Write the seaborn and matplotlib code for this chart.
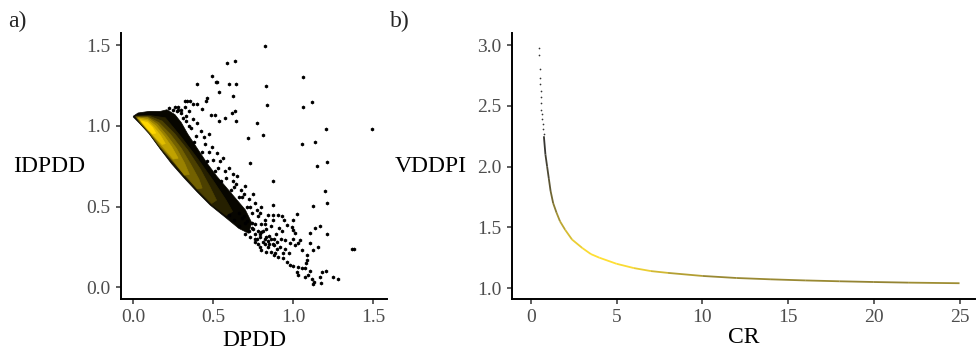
#!/usr/bin/env python3
"""
Two-panel figure: a) DPDD vs IDPDD density, b) CR vs VDDPI curve.
"""

import numpy as np
import pandas as pd
import matplotlib
matplotlib.use("Agg")
import matplotlib.pyplot as plt
from matplotlib.colors import LinearSegmentedColormap, Normalize
from matplotlib.collections import LineCollection
import seaborn as sns

# ============= PANEL A DATA (read off the hexbin) =============
# outline of the dense band (clockwise from the tip)
band_dpdd = [0.00, 0.03, 0.10, 0.17, 0.21, 0.26, 0.30, 0.34, 0.40, 0.46, 0.52, 0.58, 0.64,
             0.70, 0.74, 0.72, 0.66, 0.58, 0.48, 0.40, 0.32, 0.24, 0.17, 0.10, 0.05, 0.00]
band_idpdd = [1.06, 1.08, 1.09, 1.09, 1.10, 1.07, 1.02, 0.95, 0.86, 0.77, 0.69, 0.62, 0.55,
              0.48, 0.40, 0.335, 0.365, 0.43, 0.51, 0.59, 0.675, 0.765, 0.855, 0.95, 1.005, 1.055]

# density contours inside the band (relative count level, low -> high)
c1_dpdd = [0.01, 0.10, 0.20, 0.30, 0.40, 0.50, 0.58, 0.62, 0.58, 0.48, 0.40, 0.32, 0.24, 0.17, 0.10, 0.05]
c1_idpdd = [1.06, 1.065, 1.05, 0.93, 0.80, 0.66, 0.54, 0.47, 0.445, 0.52, 0.60, 0.685, 0.775, 0.86, 0.955, 1.005]
c2_dpdd = [0.015, 0.10, 0.18, 0.26, 0.34, 0.42, 0.48, 0.52, 0.49, 0.41, 0.33, 0.25, 0.17, 0.10, 0.05]
c2_idpdd = [1.06, 1.06, 1.03, 0.95, 0.85, 0.73, 0.62, 0.54, 0.52, 0.60, 0.685, 0.775, 0.865, 0.955, 1.01]
c3_dpdd = [0.02, 0.09, 0.16, 0.23, 0.30, 0.36, 0.41, 0.43, 0.40, 0.33, 0.25, 0.17, 0.10, 0.05]
c3_idpdd = [1.055, 1.055, 1.02, 0.95, 0.86, 0.76, 0.67, 0.615, 0.61, 0.69, 0.78, 0.87, 0.96, 1.015]
c4_dpdd = [0.025, 0.09, 0.15, 0.21, 0.27, 0.32, 0.35, 0.32, 0.25, 0.17, 0.10, 0.05]
c4_idpdd = [1.05, 1.05, 1.01, 0.94, 0.86, 0.77, 0.70, 0.695, 0.785, 0.875, 0.965, 1.02]
c5_dpdd = [0.03, 0.09, 0.14, 0.19, 0.24, 0.28, 0.25, 0.18, 0.11, 0.06]
c5_idpdd = [1.05, 1.04, 1.00, 0.94, 0.87, 0.80, 0.795, 0.875, 0.96, 1.018]
c6_dpdd = [0.04, 0.09, 0.13, 0.17, 0.20, 0.18, 0.13, 0.09, 0.06]
c6_idpdd = [1.04, 1.03, 0.99, 0.94, 0.89, 0.885, 0.935, 0.978, 1.012]
c7_dpdd = [0.05, 0.09, 0.12, 0.14, 0.12, 0.09, 0.065]
c7_idpdd = [1.03, 1.02, 0.99, 0.955, 0.952, 0.982, 1.012]
contour_levels = [0.03, 0.15, 0.3, 0.45, 0.6, 0.75, 0.88, 1.0]

# isolated hexes (count = 1) outside the dense band
sparse_dpdd = [0.825, 0.584, 0.636, 0.492, 0.515, 0.525, 0.40, 0.598, 0.642, 0.831, 0.538, 0.46,
               0.457, 0.625, 0.838, 0.32, 0.335, 0.354, 0.371, 0.40, 0.429, 0.636, 0.615, 0.484,
               0.513, 0.538, 0.575, 0.642, 0.771, 1.058, 1.119, 1.058, 1.204, 1.49, 0.719, 0.81,
               1.053, 1.135, 0.729, 1.208, 1.146, 0.875, 1.198, 1.125, 1.208, 0.875,
               0.875, 0.906, 0.927, 0.94, 1.0, 1.02, 0.958, 0.99, 1.0, 1.01, 1.167, 1.136, 1.2125,
               1.104, 1.042, 1.031, 1.0, 0.98, 0.948, 0.917, 0.933, 1.01, 1.052, 1.104, 1.156,
               1.125, 1.369, 1.381, 0.885, 0.906, 0.9375, 0.958, 0.98, 1.0, 1.031, 1.052, 1.073,
               1.08, 1.084, 1.02, 1.031, 1.073, 1.094, 1.115, 1.129, 1.104, 1.177, 1.204, 1.167,
               1.25, 1.28, 1.083, 1.125, 1.17,
               0.30, 0.32, 0.35, 0.33, 0.37, 0.40, 0.36, 0.42, 0.39, 0.44, 0.47, 0.45, 0.49, 0.47,
               0.52, 0.50, 0.54, 0.56, 0.53, 0.57, 0.60, 0.58, 0.62, 0.65, 0.63, 0.67, 0.70, 0.68,
               0.72, 0.75, 0.73, 0.77, 0.80, 0.78, 0.82, 0.84, 0.80, 0.83, 0.86, 0.85, 0.88, 0.82,
               0.78, 0.87, 0.90, 0.84, 0.80, 0.76, 0.22, 0.25, 0.28, 0.27, 0.30, 0.31,
               0.70, 0.72, 0.76, 0.68, 0.74, 0.79, 0.82, 0.86, 0.88, 0.84, 0.89, 0.92, 0.95, 0.97,
               0.91, 0.87, 0.93, 0.75, 0.77, 0.73, 0.79, 0.81, 0.76, 0.70, 0.66,
               0.60, 0.63, 0.66, 0.69, 0.71, 0.74, 0.78, 0.76, 0.80, 0.83, 0.81, 0.85, 0.79, 0.83,
               0.88, 0.86, 0.90, 0.74, 0.71, 0.66, 0.61, 0.55, 0.51, 0.46, 0.43, 0.38, 0.35, 0.33,
               0.28, 0.26, 0.62, 0.64, 0.69, 0.76, 0.79, 0.82]
sparse_idpdd = [1.496, 1.39, 1.40, 1.31, 1.27, 1.27, 1.26, 1.26, 1.26, 1.25, 1.21, 1.17,
                1.155, 1.185, 1.13, 1.155, 1.155, 1.155, 1.135, 1.135, 1.104, 1.09, 1.08, 1.067,
                1.067, 1.03, 1.05, 1.03, 1.015, 1.30, 1.145, 1.118, 0.98, 0.98, 0.926, 0.943,
                0.885, 0.898, 0.768, 0.778, 0.753, 0.66, 0.599, 0.506, 0.52, 0.51,
                0.448, 0.448, 0.44, 0.417, 0.417, 0.454, 0.386, 0.372, 0.355, 0.336, 0.38, 0.365, 0.33,
                0.334, 0.293, 0.272, 0.297, 0.276, 0.293, 0.251, 0.214, 0.262, 0.231, 0.272, 0.251,
                0.231, 0.235, 0.235, 0.21, 0.19, 0.18, 0.158, 0.138, 0.132, 0.128, 0.118, 0.118,
                0.152, 0.169, 0.097, 0.076, 0.066, 0.076, 0.05, 0.035, 0.103, 0.097, 0.103, 0.066,
                0.066, 0.05, 0.20, 0.02, 0.03,
                1.10, 1.12, 1.09, 1.06, 1.04, 1.02, 0.99, 0.97, 0.94, 0.93, 0.95, 0.89, 0.87, 0.84,
                0.83, 0.79, 0.78, 0.80, 0.74, 0.72, 0.74, 0.68, 0.66, 0.69, 0.62, 0.60, 0.63, 0.56,
                0.55, 0.58, 0.50, 0.48, 0.50, 0.44, 0.42, 0.45, 0.39, 0.36, 0.38, 0.32, 0.30, 0.30,
                0.27, 0.27, 0.24, 0.25, 0.23, 0.30, 1.11, 1.10, 1.12, 1.09, 1.08, 1.05,
                0.40, 0.35, 0.33, 0.43, 0.40, 0.31, 0.27, 0.22, 0.20, 0.29, 0.33, 0.30, 0.24, 0.21,
                0.37, 0.42, 0.35, 0.36, 0.30, 0.31, 0.33, 0.35, 0.28, 0.33, 0.38,
                0.45, 0.42, 0.46, 0.44, 0.41, 0.37, 0.35, 0.39, 0.34, 0.31, 0.28, 0.27, 0.25, 0.22,
                0.26, 0.30, 0.28, 0.46, 0.50, 0.56, 0.60, 0.66, 0.72, 0.78, 0.84, 0.90, 1.00, 1.03,
                1.10, 1.12, 0.70, 0.64, 0.58, 0.52, 0.46, 0.39]

# ============= PANEL B DATA =============
# sparse dots at the steep end of the curve
cr_dots = [0.48, 0.49, 0.52, 0.53, 0.55, 0.57, 0.58, 0.60, 0.62, 0.64, 0.66, 0.69, 0.72, 0.74]
vddpi_dots = [2.98, 2.92, 2.80, 2.73, 2.68, 2.62, 2.57, 2.52, 2.47, 2.43, 2.39, 2.35, 2.31, 2.27]

# continuous part of the curve with its local point density
cr_curve = [0.76, 0.85, 0.95, 1.05, 1.15, 1.3, 1.5, 1.7, 2.0, 2.4, 3.0, 3.5, 4.0, 5.0, 6.0,
            7.0, 8.0, 10.0, 12.0, 14.0, 16.0, 18.0, 20.0, 22.0, 25.0]
vddpi_curve = [2.25, 2.10, 2.00, 1.90, 1.80, 1.70, 1.62, 1.55, 1.48, 1.40, 1.33, 1.28, 1.25,
               1.20, 1.165, 1.14, 1.125, 1.10, 1.083, 1.072, 1.063, 1.056, 1.05, 1.045, 1.04]
density_curve = [0.0, 0.05, 0.1, 0.15, 0.25, 0.35, 0.5, 0.6, 0.75, 0.85, 0.95, 1.0, 1.0, 1.0,
                 0.95, 0.85, 0.7, 0.55, 0.45, 0.55, 0.45, 0.55, 0.4, 0.55, 0.5]

# ============= STYLE =============
sns.set_theme(style="ticks")
plt.rcParams['font.family'] = ['Liberation Serif', 'DejaVu Serif']
plt.rcParams['axes.linewidth'] = 1.4

cmap = LinearSegmentedColormap.from_list("blackgold", ["#000000", "#FFD700"])
norm = Normalize(0, 1)
tick_color = '#4D4D4D'

fig = plt.figure(figsize=(9.78, 3.51), dpi=100)
ax_a = fig.add_axes([0.1237, 0.1481, 0.2720, 0.7578])
ax_b = fig.add_axes([0.5235, 0.1481, 0.4734, 0.7578])

# ---- panel a ----
polys = [(band_dpdd, band_idpdd), (c1_dpdd, c1_idpdd), (c2_dpdd, c2_idpdd),
         (c3_dpdd, c3_idpdd), (c4_dpdd, c4_idpdd), (c5_dpdd, c5_idpdd),
         (c6_dpdd, c6_idpdd), (c7_dpdd, c7_idpdd)]
for (px, py), lev in zip(polys, contour_levels):
    ax_a.fill(px, py, color=cmap(norm(lev)), lw=0.5, ec=cmap(norm(lev)), zorder=2)

df_sparse = pd.DataFrame({'DPDD': sparse_dpdd, 'IDPDD': sparse_idpdd})
sns.scatterplot(data=df_sparse, x='DPDD', y='IDPDD', ax=ax_a, marker='h', s=8,
                color='black', linewidth=0, zorder=3)

ax_a.set_xlim(-0.077, 1.585)
ax_a.set_ylim(-0.072, 1.575)
ax_a.set_xticks([0.0, 0.5, 1.0, 1.5])
ax_a.set_yticks([0.0, 0.5, 1.0, 1.5])
ax_a.set_xticklabels(['0.0', '0.5', '1.0', '1.5'])
ax_a.set_yticklabels(['0.0', '0.5', '1.0', '1.5'])

# ---- panel b ----
pts = np.column_stack([cr_curve, vddpi_curve])
segs = np.stack([pts[:-1], pts[1:]], axis=1)
seg_density = [(a + b) / 2 for a, b in zip(density_curve[:-1], density_curve[1:])]
lc = LineCollection(segs, cmap=cmap, norm=norm, linewidths=1.3, alpha=0.8, zorder=2)
lc.set_array(np.array(seg_density))
ax_b.add_collection(lc)

df_dots = pd.DataFrame({'CR': cr_dots, 'VDDPI': vddpi_dots})
sns.scatterplot(data=df_dots, x='CR', y='VDDPI', ax=ax_b, marker='o', s=1.5,
                color='#333333', linewidth=0, zorder=3)

ax_b.set_xlim(-1.1, 25.9)
ax_b.set_ylim(0.91, 3.10)
ax_b.set_xticks([0, 5, 10, 15, 20, 25])
ax_b.set_yticks([1.0, 1.5, 2.0, 2.5, 3.0])
ax_b.set_yticklabels(['1.0', '1.5', '2.0', '2.5', '3.0'])

# ---- shared axis styling ----
for ax, xl, yl, ylx, xly in [(ax_a, 'DPDD', 'IDPDD', -0.135, -0.155),
                             (ax_b, 'CR', 'VDDPI', -0.098, -0.143)]:
    sns.despine(ax=ax)
    ax.tick_params(axis='both', labelsize=14, labelcolor=tick_color, color='#333333',
                   length=3.5, width=1.1, direction='out', pad=4)
    for sp in ['left', 'bottom']:
        ax.spines[sp].set_color('black')
    ax.set_xlabel(xl, fontsize=17, color='black')
    ax.set_ylabel(yl, fontsize=17, color='black', rotation=0, ha='right', va='center')
    ax.yaxis.set_label_coords(ylx, 0.5)
    ax.xaxis.set_label_coords(0.5, xly)
    ax.xaxis.label.set_va('center')
    ax.grid(False)

fig.text(0.018, 0.94, 'a)', fontsize=17, ha='center', va='center')
fig.text(0.409, 0.94, 'b)', fontsize=17, ha='center', va='center')

plt.savefig('out.png', dpi=100)
print("Saved out.png")
